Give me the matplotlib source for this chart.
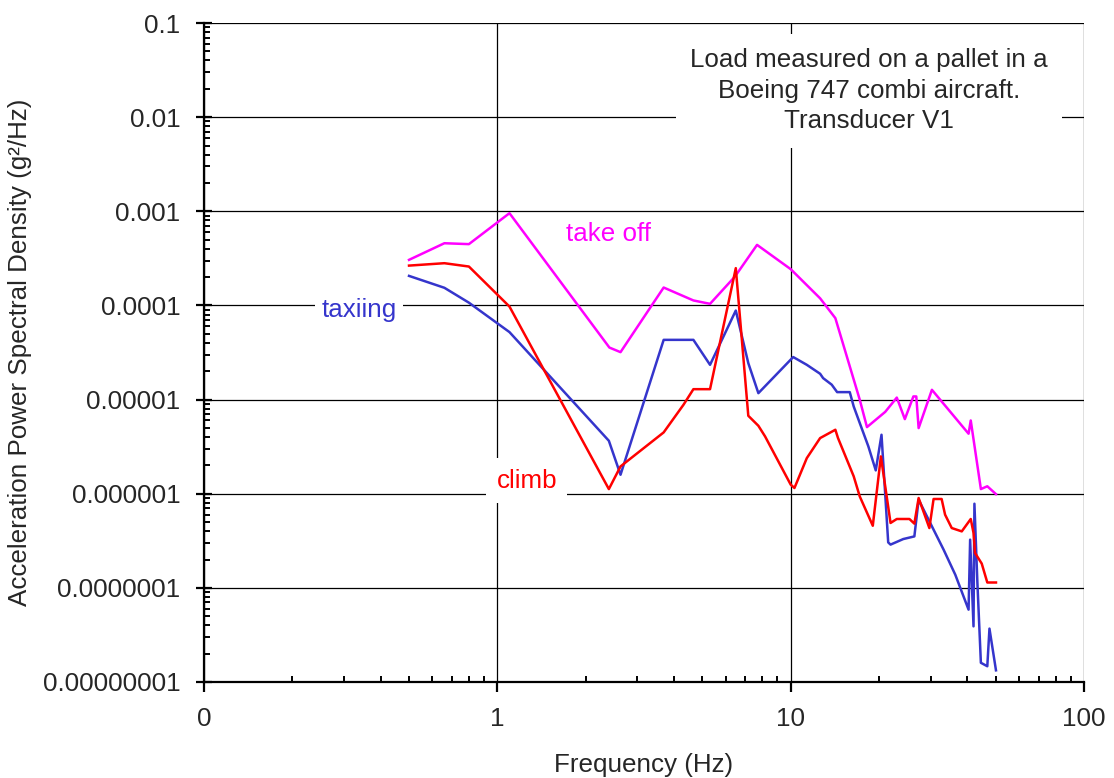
import numpy as np
import matplotlib
matplotlib.use('Agg')
from matplotlib import pyplot as plt
from matplotlib.ticker import FixedLocator, FixedFormatter, LogLocator, NullFormatter

plt.rcParams['font.family'] = ['Liberation Sans', 'DejaVu Sans']

# series
takeoff_f = [0.5, 0.66, 0.8, 1.1, 2.41, 2.63, 3.69, 4.66, 5.31, 6.46, 7.68, 10.0, 12.6, 14.2,
             17.2, 18.2, 21.0, 23.0, 24.5, 26.2, 26.8, 27.3, 30.3, 40.4, 41.1, 44.5, 46.8, 50.1]
takeoff_psd = [3.05e-4, 4.58e-4, 4.48e-4, 9.55e-4, 3.57e-5, 3.19e-5, 1.55e-4, 1.13e-4, 1.04e-4,
               2.03e-4, 4.4e-4, 2.43e-4, 1.19e-4, 7.33e-5, 9.95e-6, 5.1e-6, 7.4e-6, 1.05e-5,
               6.2e-6, 1.08e-5, 1.08e-5, 4.98e-6, 1.27e-5, 4.34e-6, 6.0e-6, 1.12e-6, 1.2e-6, 9.9e-7]

taxi_f = [0.5, 0.66, 0.8, 1.1, 2.40, 2.63, 3.69, 4.66, 5.31, 6.50, 7.17, 7.76, 10.2, 11.35, 12.6,
          12.9, 13.8, 14.4, 15.9, 16.4, 17.2, 18.4, 19.5, 20.4, 21.5, 21.9, 24.2, 26.4, 27.3,
          29.9, 33.2, 36.4, 40.4, 40.9, 42.0, 42.3, 43.3, 44.5, 46.8, 47.6, 50.1]
taxi_psd = [2.06e-4, 1.54e-4, 1.07e-4, 5.21e-5, 3.65e-6, 1.59e-6, 4.31e-5, 4.31e-5, 2.34e-5,
            8.83e-5, 2.44e-5, 1.17e-5, 2.83e-5, 2.34e-5, 1.88e-5, 1.69e-5, 1.44e-5, 1.2e-5,
            1.2e-5, 8.45e-6, 5.63e-6, 3.18e-6, 1.77e-6, 4.23e-6, 3.04e-7, 2.88e-7, 3.3e-7,
            3.52e-7, 8.64e-7, 4.89e-7, 2.55e-7, 1.38e-7, 5.87e-8, 3.25e-7, 3.9e-8, 7.83e-7,
            1.13e-7, 1.6e-8, 1.47e-8, 3.69e-8, 1.33e-8]

climb_f = [0.5, 0.66, 0.8, 1.1, 2.40, 2.63, 3.69, 4.31, 4.66, 5.31, 6.50, 7.17, 7.76, 8.18, 10.0,
           10.3, 11.35, 12.6, 14.2, 14.5, 16.4, 17.2, 19.05, 20.3, 21.9, 23.0, 25.4, 26.4, 27.3,
           29.7, 30.7, 32.7, 33.6, 35.4, 38.3, 41.1, 42.0, 42.5, 44.8, 46.8, 50.1]
climb_psd = [2.65e-4, 2.81e-4, 2.59e-4, 9.73e-5, 1.12e-6, 1.95e-6, 4.48e-6, 8.8e-6, 1.29e-5,
             1.29e-5, 2.49e-4, 6.73e-6, 5.27e-6, 4.06e-6, 1.25e-6, 1.15e-6, 2.39e-6, 3.9e-6,
             4.78e-6, 3.9e-6, 1.53e-6, 9.35e-7, 4.57e-7, 2.49e-6, 4.89e-7, 5.39e-7, 5.39e-7,
             4.81e-7, 9.0e-7, 4.32e-7, 8.79e-7, 8.79e-7, 5.99e-7, 4.32e-7, 3.98e-7, 5.39e-7,
             3.83e-7, 2.35e-7, 1.81e-7, 1.14e-7, 1.14e-7]

xticks = [0.1, 1, 10, 100]
xtick_labels = ['0', '1', '10', '100']
yticks = [1e-8, 1e-7, 1e-6, 1e-5, 1e-4, 1e-3, 1e-2, 1e-1]
ytick_labels = ['0.00000001', '0.0000001', '0.000001', '0.00001', '0.0001', '0.001', '0.01', '0.1']

note = 'Load measured on a pallet in a\nBoeing 747 combi aircraft.\nTransducer V1'

BLUE = '#3535cc'
MAGENTA = '#ff00ff'
RED = '#ff0000'
TXT = '#262626'
FS = 18.7

fig = plt.figure(figsize=(11.14, 7.78), dpi=100)
ax = fig.add_axes([0.1831, 0.1234, 0.79, 0.8470])

ax.plot(taxi_f, taxi_psd, color=BLUE, lw=1.8, zorder=3)
ax.plot(takeoff_f, takeoff_psd, color=MAGENTA, lw=1.8, zorder=3)
ax.plot(climb_f, climb_psd, color=RED, lw=1.8, zorder=4)

ax.set_xscale('log')
ax.set_yscale('log')
ax.set_xlim(0.1, 100)
ax.set_ylim(1e-8, 0.1)

ax.xaxis.set_major_locator(FixedLocator(xticks))
ax.xaxis.set_major_formatter(FixedFormatter(xtick_labels))
ax.yaxis.set_major_locator(FixedLocator(yticks))
ax.yaxis.set_major_formatter(FixedFormatter(ytick_labels))
ax.xaxis.set_minor_locator(LogLocator(base=10, subs=np.arange(2, 10), numticks=20))
ax.yaxis.set_minor_locator(LogLocator(base=10, subs=np.arange(2, 10), numticks=20))
ax.xaxis.set_minor_formatter(NullFormatter())
ax.yaxis.set_minor_formatter(NullFormatter())

ax.grid(True, which='major', color='black', lw=0.9, zorder=1)
ax.set_axisbelow(True)

for s in ['top', 'right']:
    ax.spines[s].set_visible(False)
for s in ['left', 'bottom']:
    ax.spines[s].set_linewidth(1.6)

ax.tick_params(axis='y', which='major', direction='inout', length=12, width=1.6,
               pad=11, labelsize=FS, labelcolor=TXT)
ax.tick_params(axis='x', which='major', direction='out', length=7, width=1.6,
               pad=11, labelsize=FS, labelcolor=TXT)
ax.tick_params(which='minor', direction='in', length=4.5, width=1.4)

ax.set_xlabel('Frequency (Hz)', fontsize=FS, color=TXT, labelpad=16)
ax.set_ylabel('Acceleration Power Spectral Density (g²/Hz)', fontsize=FS, color=TXT, labelpad=8)

ax.text(0.338, 8.97e-5, 'taxiing', color=BLUE, fontsize=FS, ha='center', va='center',
        bbox=dict(boxstyle='square,pad=0.25', fc='white', ec='none'), zorder=5)
ax.text(2.40, 5.75e-4, 'take off', color=MAGENTA, fontsize=FS, ha='center', va='center',
        zorder=5)
ax.text(1.26, 1.37e-6, 'climb', color=RED, fontsize=FS, ha='center', va='center',
        bbox=dict(boxstyle='square,pad=0.4', fc='white', ec='none'), zorder=5)
ax.text(0.756, 0.897, note, transform=ax.transAxes, fontsize=FS, color=TXT,
        ha='center', va='center', linespacing=1.34,
        bbox=dict(boxstyle='square,pad=0.55', fc='white', ec='none'), zorder=5)

fig.savefig('out.png', dpi=100)
